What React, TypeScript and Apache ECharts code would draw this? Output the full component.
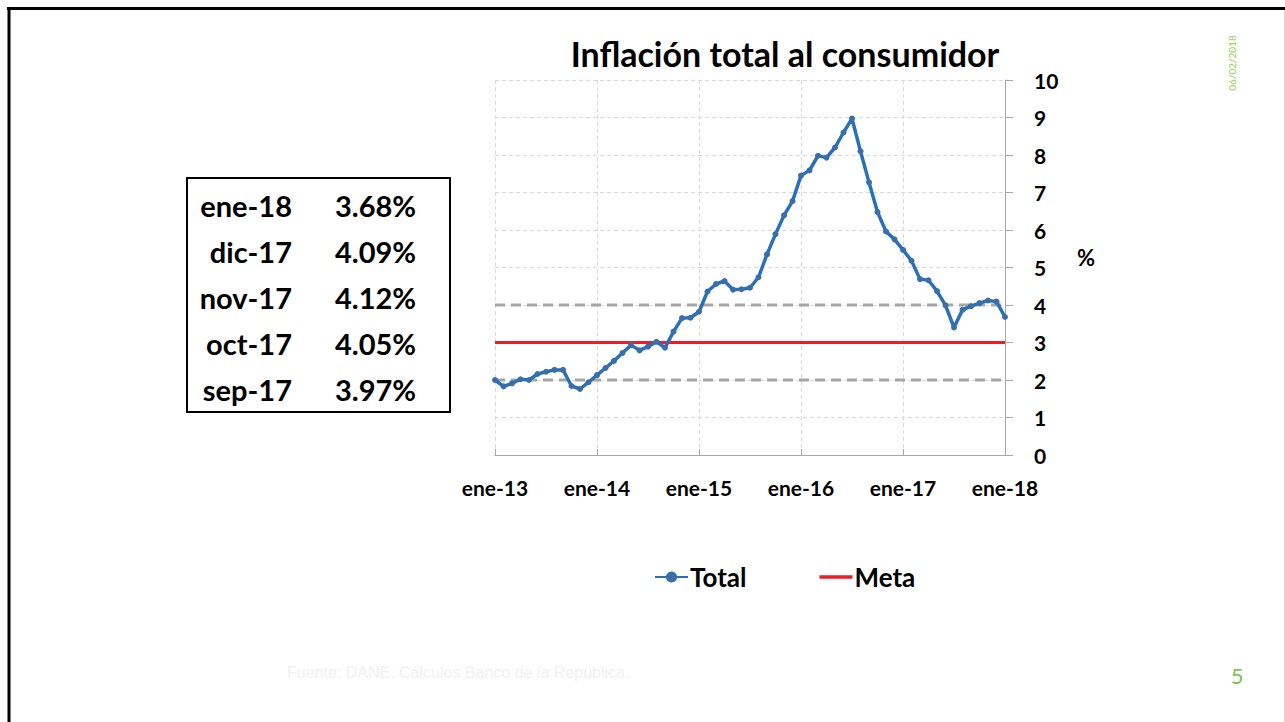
import React, { useEffect, useRef } from "react";
import * as echarts from "echarts";

const categories = [
  "ene-13","feb-13","mar-13","abr-13","may-13","jun-13","jul-13","ago-13","sep-13","oct-13","nov-13","dic-13",
  "ene-14","feb-14","mar-14","abr-14","may-14","jun-14","jul-14","ago-14","sep-14","oct-14","nov-14","dic-14",
  "ene-15","feb-15","mar-15","abr-15","may-15","jun-15","jul-15","ago-15","sep-15","oct-15","nov-15","dic-15",
  "ene-16","feb-16","mar-16","abr-16","may-16","jun-16","jul-16","ago-16","sep-16","oct-16","nov-16","dic-16",
  "ene-17","feb-17","mar-17","abr-17","may-17","jun-17","jul-17","ago-17","sep-17","oct-17","nov-17","dic-17",
  "ene-18",
];

const total = [
  2.0, 1.83, 1.91, 2.02, 2.0, 2.16, 2.22, 2.27, 2.27, 1.84, 1.76, 1.94,
  2.13, 2.32, 2.51, 2.72, 2.93, 2.79, 2.89, 3.02, 2.86, 3.29, 3.65, 3.66,
  3.82, 4.36, 4.56, 4.64, 4.41, 4.42, 4.46, 4.74, 5.35, 5.89, 6.39, 6.77,
  7.45, 7.59, 7.98, 7.93, 8.2, 8.6, 8.97, 8.1, 7.27, 6.48, 5.96, 5.75,
  5.47, 5.18, 4.69, 4.66, 4.37, 3.99, 3.4, 3.87, 3.97, 4.05, 4.12, 4.09,
  3.68,
];

const META = 3;
const RANGE_LOW = 2;
const RANGE_HIGH = 4;

const yTicks = [0, 10, 1]; // min, max, interval

const tableLabels = ["ene-18", "dic-17", "nov-17", "oct-17", "sep-17"];
const tableValues = ["3.68%", "4.09%", "4.12%", "4.05%", "3.97%"];

const FONT = "Lato";

export default function App() {
  const ref = useRef<HTMLDivElement>(null);

  useEffect(() => {
    if (!ref.current) return;
    const chart = echarts.init(ref.current, undefined, { renderer: "svg" });
    const first = categories[0];
    const last = categories[categories.length - 1];
    const yearTick = (i: number) => i % 12 === 0;

    const tableGraphics: any[] = [];
    tableLabels.forEach((lab, i) => {
      const y = 205 + i * 46;
      tableGraphics.push({
        type: "text",
        x: 292,
        y,
        style: { text: lab, fontFamily: FONT, fontWeight: "bold", fontSize: 29, fill: "#000", align: "right", verticalAlign: "middle" },
      });
      tableGraphics.push({
        type: "text",
        x: 335,
        y,
        style: { text: tableValues[i], fontFamily: FONT, fontWeight: "bold", fontSize: 29, fill: "#000", align: "left", verticalAlign: "middle" },
      });
    });

    chart.setOption({
      animation: false,
      backgroundColor: "#ffffff",
      grid: { left: 495, right: 280, top: 80, bottom: 267, containLabel: false },
      legend: {
        data: [
          { name: "Total" },
          { name: "Meta", icon: "path://M0,0H40V4H0Z" },
        ],
        left: 649,
        top: 559,
        itemGap: 73,
        itemWidth: 33,
        itemHeight: 14,
        textStyle: { fontFamily: FONT, fontWeight: "bold", fontSize: 26, color: "#000", padding: [0, 0, 0, -3] },
        selectedMode: false,
      },
      xAxis: {
        type: "category",
        data: categories,
        boundaryGap: false,
        axisLine: { lineStyle: { color: "#a6a6a6", width: 1 } },
        axisTick: { show: true, inside: true, length: 6, interval: (i: number) => yearTick(i), lineStyle: { color: "#a6a6a6" } },
        axisLabel: {
          interval: (i: number) => yearTick(i),
          margin: 22,
          fontFamily: FONT,
          fontWeight: "bold",
          fontSize: 21,
          color: "#000",
        },
        splitLine: { show: true, interval: (i: number) => yearTick(i), lineStyle: { color: "#d9d9d9", type: [4, 3], width: 1 } },
      },
      yAxis: {
        type: "value",
        position: "right",
        min: yTicks[0],
        max: yTicks[1],
        interval: yTicks[2],
        axisLine: { show: true, lineStyle: { color: "#a6a6a6", width: 1 } },
        axisTick: { show: true, inside: false, length: 8, lineStyle: { color: "#a6a6a6" } },
        axisLabel: { margin: 29, fontFamily: FONT, fontWeight: "bold", fontSize: 21, color: "#000", align: "left" },
        splitLine: { show: true, lineStyle: { color: "#d9d9d9", type: [4, 3], width: 1 } },
      },
      series: [
        {
          name: "Rango inferior",
          type: "line",
          data: [[first, RANGE_LOW], [last, RANGE_LOW]],
          symbol: "none",
          lineStyle: { color: "#a6a6a6", width: 3, type: [10, 6] },
          z: 2,
          silent: true,
        },
        {
          name: "Rango superior",
          type: "line",
          data: [[first, RANGE_HIGH], [last, RANGE_HIGH]],
          symbol: "none",
          lineStyle: { color: "#a6a6a6", width: 3, type: [10, 6] },
          z: 2,
          silent: true,
        },
        {
          name: "Meta",
          type: "line",
          data: [[first, META], [last, META]],
          symbol: "none",
          itemStyle: { color: "#ee1c25" },
          lineStyle: { color: "#ee1c25", width: 3 },
          z: 3,
        },
        {
          name: "Total",
          type: "line",
          data: total,
          symbol: "circle",
          symbolSize: 6,
          showAllSymbol: true,
          itemStyle: { color: "#3b6ea8" },
          lineStyle: { color: "#2a70b8", width: 3.5 },
          z: 4,
        },
      ],
      graphic: [
        { type: "line", shape: { x1: 7, y1: 8.5, x2: 1285, y2: 8.5 }, style: { stroke: "#000", lineWidth: 3 }, silent: true },
        { type: "line", shape: { x1: 9, y1: 7, x2: 9, y2: 722 }, style: { stroke: "#000", lineWidth: 3 }, silent: true },
        { type: "line", shape: { x1: 1284.5, y1: 10, x2: 1284.5, y2: 722 }, style: { stroke: "#d9d9d9", lineWidth: 1 }, silent: true },
        {
          type: "text",
          x: 785,
          y: 53,
          style: { text: "Inflación total al consumidor", fontFamily: FONT, fontWeight: "bold", fontSize: 34, fill: "#000", align: "center", verticalAlign: "middle" },
        },
        {
          type: "text",
          x: 1086,
          y: 257,
          style: { text: "%", fontFamily: FONT, fontWeight: "bold", fontSize: 22, fill: "#000", align: "center", verticalAlign: "middle" },
        },
        { type: "rect", shape: { x: 187, y: 178, width: 263, height: 234 }, style: { fill: "none", stroke: "#000", lineWidth: 2 } },
        ...tableGraphics,
        {
          type: "text",
          x: 1232,
          y: 63,
          rotation: Math.PI / 2,
          style: { text: "06/02/2018", fontFamily: FONT, fontSize: 10, fill: "#92d050", align: "center", verticalAlign: "middle" },
        },
        {
          type: "text",
          x: 1237,
          y: 675,
          style: { text: "5", fontFamily: FONT, fontSize: 22, fill: "#7cc155", align: "center", verticalAlign: "middle" },
        },
        {
          type: "text",
          x: 287,
          y: 672,
          style: { text: "Fuente: DANE. Cálculos Banco de la República.", fontFamily: "Liberation Sans", fontSize: 16, fill: "#f0f0f0", align: "left", verticalAlign: "middle" },
        },
      ],
    });
    return () => chart.dispose();
  }, []);

  return (
    <div
      ref={ref}
      style={{ position: "absolute", left: 0, top: 0, width: 1285, height: 722 }}
    />
  );
}
